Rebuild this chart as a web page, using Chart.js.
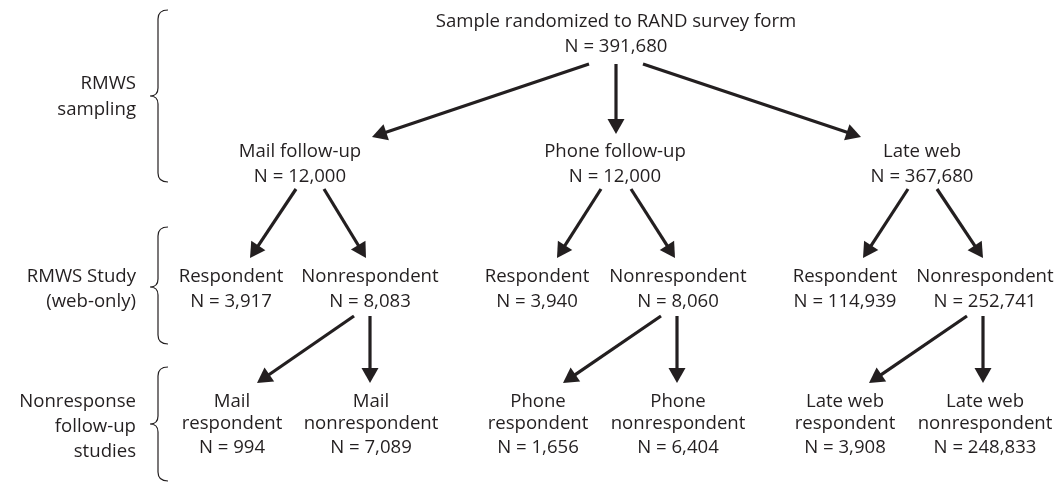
<!DOCTYPE html>
<html>
<head>
<meta charset="utf-8">
<script src="https://cdn.jsdelivr.net/npm/chart.js@4/dist/chart.umd.min.js"></script>
<style>
  html, body { margin: 0; padding: 0; background: #fff; }
  #wrap { width: 1060px; height: 483px; position: relative; }
</style>
</head>
<body>
<div id="wrap"><canvas id="flow"></canvas></div>
<script>
// nodes of the flow chart: text lines, centre x and baseline of each line (chart units)
const nodeLines = [
  ['Sample randomized to RAND survey form', 'N = 391,680'],
  ['Mail follow-up', 'N = 12,000'],
  ['Phone follow-up', 'N = 12,000'],
  ['Late web', 'N = 367,680'],
  ['Respondent', 'N = 3,917'],
  ['Nonrespondent', 'N = 8,083'],
  ['Respondent', 'N = 3,940'],
  ['Nonrespondent', 'N = 8,060'],
  ['Respondent', 'N = 114,939'],
  ['Nonrespondent', 'N = 252,741'],
  ['Mail', 'respondent', 'N = 994'],
  ['Mail', 'nonrespondent', 'N = 7,089'],
  ['Phone', 'respondent', 'N = 1,656'],
  ['Phone', 'nonrespondent', 'N = 6,404'],
  ['Late web', 'respondent', 'N = 3,908'],
  ['Late web', 'nonrespondent', 'N = 248,833']
];
const nodeX = [616, 300, 615, 922, 231, 370, 537, 678, 845, 985, 232, 371, 538, 678, 845, 985];
const nodeLevel = [0, 1, 1, 1, 2, 2, 2, 2, 2, 2, 3, 3, 3, 3, 3, 3];
const levelBaselines = [[27, 52], [157, 182], [282, 307], [407, 429, 453]];

// stage labels on the left with their braces
const stageLines = [['RMWS', 'sampling'], ['RMWS Study', '(web-only)'], ['Nonresponse', 'follow-up', 'studies']];
const stageBaselines = [[89, 115], [282, 307], [407, 432, 457]];
const braceTop = [10, 227, 367];
const braceMid = [96, 287, 424];
const braceBottom = [182, 344, 481];

// arrows: start point and tip
const arrowFrom = [[589, 64], [616, 64], [643, 64],
  [296, 189], [324, 189], [601, 189], [631, 189], [908, 189], [937, 189],
  [354, 316], [370, 316], [661, 316], [677, 316], [967, 316], [983, 316]];
const arrowTo = [[372, 137], [616, 134], [861, 137],
  [250, 258], [366, 258], [557, 258], [675, 258], [863, 258], [983, 258],
  [257, 383], [370, 383], [563, 383], [677, 383], [869, 383], [983, 383]];

const INK = '#231f20';
const FONT = '18.6px "Open Sans", sans-serif';

const flowPlugin = {
  id: 'flow',
  afterDatasetsDraw(chart) {
    const ctx = chart.ctx;
    const xs = chart.scales.x, ys = chart.scales.y;
    const px = (v) => xs.getPixelForValue(v);
    const py = (v) => ys.getPixelForValue(v);
    ctx.save();

    // arrows
    ctx.strokeStyle = INK;
    ctx.fillStyle = INK;
    ctx.lineWidth = 3.2;
    arrowFrom.forEach((f, i) => {
      const t = arrowTo[i];
      const x0 = px(f[0]), y0 = py(f[1]), x1 = px(t[0]), y1 = py(t[1]);
      const ang = Math.atan2(y1 - y0, x1 - x0);
      const headLen = 15, headW = 8.5;
      const bx = x1 - Math.cos(ang) * (headLen - 1), by = y1 - Math.sin(ang) * (headLen - 1);
      ctx.beginPath();
      ctx.moveTo(x0, y0);
      ctx.lineTo(bx, by);
      ctx.stroke();
      const hx = x1 - Math.cos(ang) * headLen, hy = y1 - Math.sin(ang) * headLen;
      ctx.beginPath();
      ctx.moveTo(x1, y1);
      ctx.lineTo(hx + Math.sin(ang) * headW, hy - Math.cos(ang) * headW);
      ctx.lineTo(hx - Math.sin(ang) * headW, hy + Math.cos(ang) * headW);
      ctx.closePath();
      ctx.fill();
    });

    // node texts
    ctx.font = FONT;
    ctx.textBaseline = 'alphabetic';
    ctx.textAlign = 'center';
    nodeLines.forEach((lines, i) => {
      const bl = levelBaselines[nodeLevel[i]];
      lines.forEach((s, j) => ctx.fillText(s, px(nodeX[i]), py(bl[j])));
    });

    // stage labels
    ctx.textAlign = 'right';
    stageLines.forEach((lines, i) => {
      lines.forEach((s, j) => ctx.fillText(s, px(136), py(stageBaselines[i][j])));
    });

    // braces
    ctx.lineWidth = 1.2;
    braceTop.forEach((top, i) => {
      const t = py(top), m = py(braceMid[i]), b = py(braceBottom[i]);
      const xe = px(168), xv = px(158), xt = px(150);
      ctx.beginPath();
      ctx.moveTo(xe, t);
      ctx.quadraticCurveTo(xv, t, xv, t + 9);
      ctx.lineTo(xv, m - 8);
      ctx.quadraticCurveTo(xv, m, xt, m);
      ctx.quadraticCurveTo(xv, m, xv, m + 8);
      ctx.lineTo(xv, b - 9);
      ctx.quadraticCurveTo(xv, b, xe, b);
      ctx.stroke();
    });
    ctx.restore();
  }
};

new Chart(document.getElementById('flow'), {
  type: 'scatter',
  data: {
    datasets: [{
      data: nodeX.map((x, i) => ({ x: x, y: levelBaselines[nodeLevel[i]][0] })),
      pointRadius: 0
    }]
  },
  options: {
    responsive: true,
    maintainAspectRatio: false,
    animation: false,
    layout: { padding: 0 },
    plugins: { legend: { display: false }, tooltip: { enabled: false } },
    scales: {
      x: { type: 'linear', min: 0, max: 1060, display: false },
      y: { type: 'linear', min: 0, max: 483, reverse: true, display: false }
    }
  },
  plugins: [flowPlugin]
});
</script>
</body>
</html>
